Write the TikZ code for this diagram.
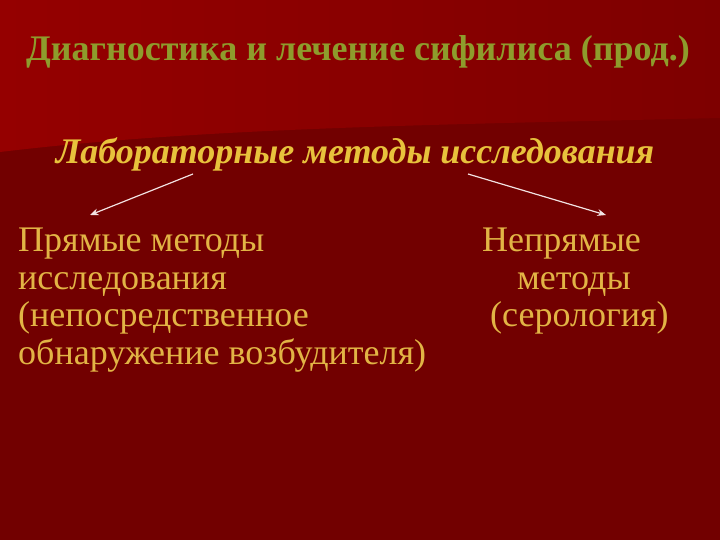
\documentclass[tikz,border=0pt]{standalone}
\usepackage{fontspec}
\setmainfont{Liberation Serif}
\usepackage{tikz}
\usepackage{xcolor}
\usetikzlibrary{arrows.meta, positioning, calc}

\definecolor{slidebg}{HTML}{720000}
\definecolor{slidetop}{HTML}{950000}
\definecolor{slidetopr}{HTML}{7E0000}
\definecolor{titlegreen}{HTML}{8E9C2C}
\definecolor{subgold}{HTML}{E8C23C}
\definecolor{textgold}{HTML}{E2B445}
\definecolor{arrowpink}{HTML}{F2E2E2}

\begin{document}
\begin{tikzpicture}[
    x=1pt, y=-1pt,
    title/.style={text=titlegreen, font=\fontsize{36}{40}\selectfont\bfseries},
    subtitle/.style={text=subgold, font=\fontsize{36}{40}\selectfont\bfseries\itshape},
    body/.style={text=textgold, font=\fontsize{36}{37.5}\selectfont, inner sep=0pt, align=left, anchor=north west},
    arrow/.style={-{Stealth[length=3mm, width=2.4mm]}, arrowpink, line width=1.2pt},
]

% Background
\fill[slidebg] (0,0) rectangle (720,540);
\shade[left color=slidetop, right color=slidetopr]
    (0,0) -- (720,0) -- (720,118) .. controls (420,125) and (200,128) .. (0,152) -- cycle;
\useasboundingbox (0,0) rectangle (720,540);

% Title
\node[title] (head) at (358,52) {Диагностика и лечение сифилиса (прод.)};

% Subtitle
\node[subtitle] (lab) at (355,154) {Лабораторные методы исследования};

% Direct methods
\node[body] (direct) at (18,228) {
    Прямые методы\\
    исследования\\
    (непосредственное\\
    обнаружение возбудителя)
};

% Indirect methods
\node[body] (indirect) at (482,228) {
    Непрямые\\
    \hspace*{35pt}методы\\
    \hspace*{8pt}(серология)
};

% Arrows
\coordinate (lab-l) at (193,174);
\coordinate (lab-r) at (468,174);
\coordinate (direct-in) at (90,215);
\coordinate (indirect-in) at (606,215);
\draw[arrow] (lab-l) -- (direct-in);
\draw[arrow] (lab-r) -- (indirect-in);

\end{tikzpicture}
\end{document}
